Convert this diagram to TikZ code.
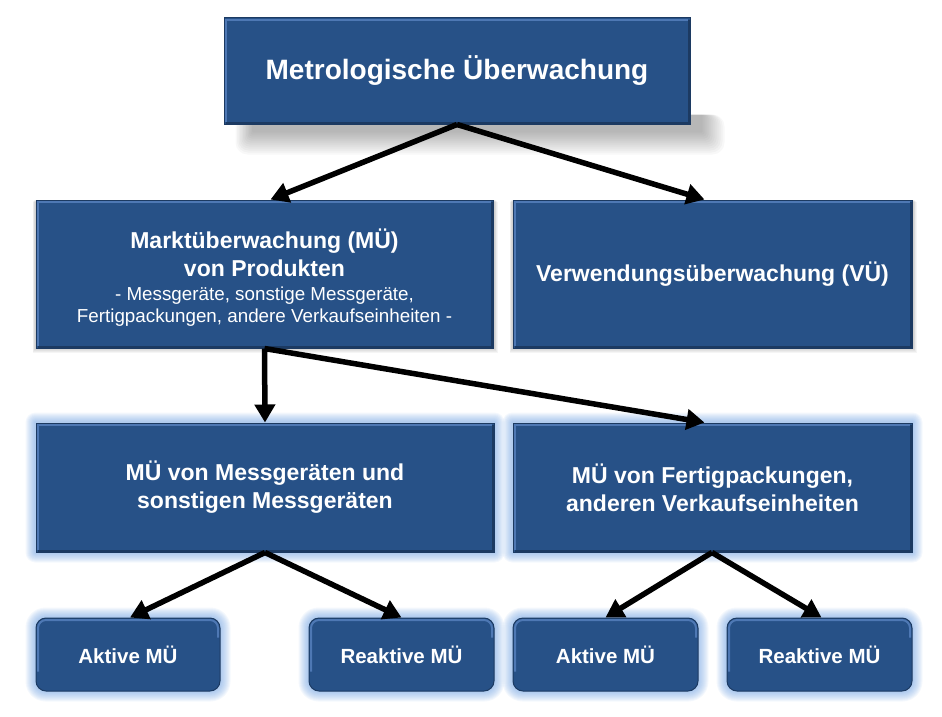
\documentclass[tikz,border=0pt]{standalone}
\usepackage{fontspec}
\setmainfont{Liberation Sans}
\usetikzlibrary{arrows.meta,backgrounds}
\definecolor{boxblue}{RGB}{39,81,135}
\definecolor{boxedge}{RGB}{28,58,98}
\definecolor{bevel}{RGB}{78,120,180}
\definecolor{glowblue}{RGB}{110,160,225}
\tikzset{
  box/.style={rectangle,fill=boxblue,draw=boxedge,line width=1pt,text=white,align=center,inner sep=0pt,font=\bfseries},
  rbox/.style={box,rounded corners=10pt},
  boldtxt/.style={text=white,inner sep=0pt,anchor=base,font=\bfseries\fontsize{23}{28}\selectfont},
  smalltxt/.style={text=white,inner sep=0pt,anchor=base,font=\fontsize{18.8}{23}\selectfont},
  conn/.style={line width=5.5pt,-{Triangle[length=18pt,width=20pt]}},
}
\begin{document}
\begin{tikzpicture}[x=1pt,y=-1pt]
\useasboundingbox (0,0) rectangle (942,717);
\node[box,minimum width=466pt,minimum height=106pt,font=\bfseries\fontsize{28}{32}\selectfont] (top) at (457,71) {Metrologische Überwachung};
\node[box,minimum width=457pt,minimum height=148pt] (mkt) at (264.5,274) {};
\node[boldtxt] (mktA) at (264.5,248) {Marktüberwachung (MÜ)};
\node[boldtxt] (mktB) at (264.5,276) {von Produkten};
\node[smalltxt] (mktC) at (264.5,300) {- Messgeräte, sonstige Messgeräte,};
\node[smalltxt] (mktD) at (264.5,322) {Fertigpackungen, andere Verkaufseinheiten -};
\node[box,minimum width=399pt,minimum height=148pt,font=\bfseries\fontsize{23}{28}\selectfont] (vu) at (712.5,274) {Verwendungsüberwachung (VÜ)};
\node[box,minimum width=458pt,minimum height=129pt,font=\bfseries\fontsize{23}{28}\selectfont] (mg) at (265,487.5) {MÜ von Messgeräten und\\sonstigen Messgeräten};
\node[box,minimum width=399pt,minimum height=129pt,font=\bfseries\fontsize{23}{28}\selectfont] (fp) at (712.5,487.5) {MÜ von Fertigpackungen,\\anderen Verkaufseinheiten};
\node[rbox,minimum width=184pt,minimum height=73pt,font=\bfseries\fontsize{20.5}{24}\selectfont] (a1) at (128,654.5) {Aktive MÜ};
\node[rbox,minimum width=185pt,minimum height=73pt,font=\bfseries\fontsize{20.5}{24}\selectfont] (r1) at (401.5,654.5) {Reaktive MÜ};
\node[rbox,minimum width=185pt,minimum height=73pt,font=\bfseries\fontsize{20.5}{24}\selectfont] (a2) at (605.5,654.5) {Aktive MÜ};
\node[rbox,minimum width=185pt,minimum height=73pt,font=\bfseries\fontsize{20.5}{24}\selectfont] (r2) at (819.5,654.5) {Reaktive MÜ};
\begin{scope}[on background layer]
  % soft shadow under top box
  \foreach \g in {1,...,12}{
    \fill[black,opacity=0.028,rounded corners=\g pt] ([shift={(30-\g*1.5,-10)}]top.south west) rectangle ([shift={(10+\g*2,6+\g*2)}]top.south east);
  }
  \foreach \n in {mkt,vu}{
    \foreach \g in {1,...,5}{
      \fill[black,opacity=0.04] ([shift={(-\g*0.6,\g*0.4)}]\n.north west) rectangle ([shift={(\g*0.6+1,\g*0.9)}]\n.south east);
    }
  }
  \foreach \n in {mg,fp}{
    \foreach \g in {1,...,10}{
      \fill[glowblue,opacity=0.075,rounded corners=\g pt] ([shift={(-\g,-\g)}]\n.north west) rectangle ([shift={(\g,\g)}]\n.south east);
    }
  }
  \foreach \n in {a1,r1,a2,r2}{
    \foreach \g in {1,...,10}{
      \fill[glowblue,opacity=0.075,rounded corners=10pt+\g pt] ([shift={(-\g,-\g)}]\n.north west) rectangle ([shift={(\g,\g)}]\n.south east);
    }
  }
\end{scope}
% bevel highlights
\foreach \n in {top,mkt,vu,mg,fp}{
  \draw[bevel,line width=2.5pt] ([shift={(2.5,-2.5)}]\n.south west) -- ([shift={(2.5,2.5)}]\n.north west) -- ([shift={(-2.5,2.5)}]\n.north east);
  \draw[boxedge,line width=2pt] ([shift={(2.5,-2)}]\n.south west) -- ([shift={(-2,-2)}]\n.south east) -- ([shift={(-2,2.5)}]\n.north east);
}
\foreach \n in {a1,r1,a2,r2}{
  \draw[bevel,line width=2pt,rounded corners=8pt] ([shift={(2.5,-20)}]\n.south west) -- ([shift={(2.5,2.5)}]\n.north west) -- ([shift={(-2.5,2.5)}]\n.north east) -- ([shift={(-2.5,20)}]\n.north east);
}
\draw[conn] (top.south) -- ([xshift=6pt]mkt.north);
\draw[conn] (top.south) -- ([xshift=-8pt]vu.north);
\draw[conn] (mkt.south) -- (mg.north);
\draw[conn] (mkt.south) -- ([xshift=-8pt]fp.north);
\draw[conn] (mg.south) -- ([xshift=2pt]a1.north);
\draw[conn] (mg.south) -- (r1.north);
\draw[conn] ([xshift=-0.5pt]fp.south) -- (a2.north);
\draw[conn] ([xshift=-0.5pt]fp.south) -- ([xshift=2pt]r2.north);
\end{tikzpicture}
\end{document}
